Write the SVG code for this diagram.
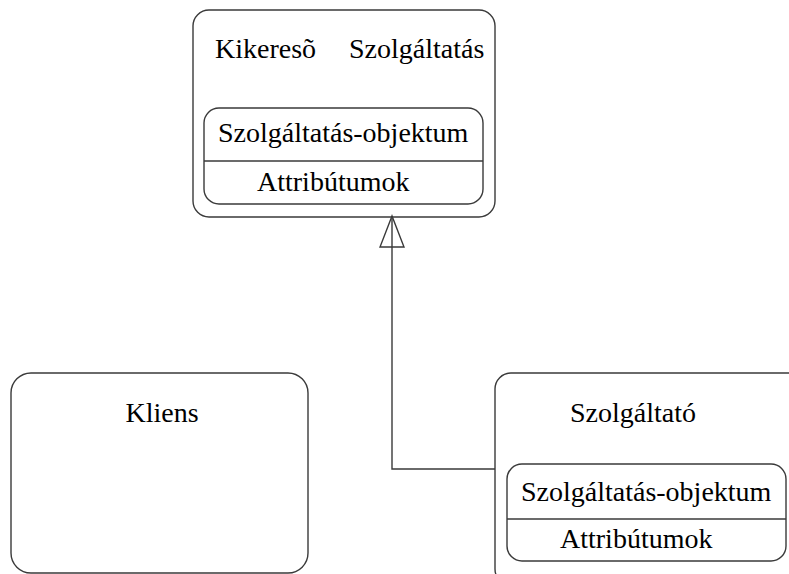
<svg xmlns="http://www.w3.org/2000/svg" width="789" height="574" viewBox="0 0 789 574">
  <style>
    .box { fill: #ffffff; stroke: #3a3a3a; stroke-width: 1.4; }
    .line { fill: none; stroke: #3a3a3a; stroke-width: 1.4; }
    .lbl { font-family: "Liberation Serif", "Times New Roman", serif; font-size: 28px; fill: #000000; }
  </style>
  <defs>
    <!-- open triangle for generalisation, drawn along +x -->
    <marker id="inherit" markerWidth="34" markerHeight="26" refX="32" refY="13" orient="auto" markerUnits="userSpaceOnUse" viewBox="0 0 34 26">
      <path d="M32,13 L1,1 L1,25 Z" fill="none" stroke="#3a3a3a" stroke-width="1.4"/>
    </marker>
  </defs>

  <!-- lookup service -->
  <g id="kikereso">
    <rect class="box" x="193" y="10" width="302" height="207" rx="16" ry="16"/>
    <text class="lbl" x="215" y="58">Kikeresõ</text>
    <text class="lbl" x="349" y="58">Szolgáltatás</text>
    <g id="kikereso-obj">
      <rect class="box" x="204" y="108" width="279" height="96" rx="15" ry="15"/>
      <line class="line" x1="204" y1="161" x2="483" y2="161"/>
      <text class="lbl" x="218" y="142">Szolgáltatás-objektum</text>
      <text class="lbl" x="257" y="191">Attribútumok</text>
    </g>
  </g>

  <!-- client -->
  <g id="kliens">
    <rect class="box" x="11" y="373" width="297" height="200" rx="20" ry="20"/>
    <text class="lbl" x="162" y="422" text-anchor="middle">Kliens</text>
  </g>

  <!-- service provider -->
  <g id="szolgaltato">
    <rect class="box" x="495" y="373" width="320" height="212" rx="16" ry="16"/>
    <text class="lbl" x="570" y="422">Szolgáltató</text>
    <g id="szolgaltato-obj">
      <rect class="box" x="507" y="464" width="279" height="97" rx="15" ry="15"/>
      <line class="line" x1="507" y1="519" x2="786" y2="519"/>
      <text class="lbl" x="521" y="501">Szolgáltatás-objektum</text>
      <text class="lbl" x="560" y="548">Attribútumok</text>
    </g>
  </g>

  <!-- connectors -->
  <g id="connectors">
    <polyline class="line" points="495,469 392,469 392,216" marker-end="url(#inherit)"/>
  </g>
</svg>
